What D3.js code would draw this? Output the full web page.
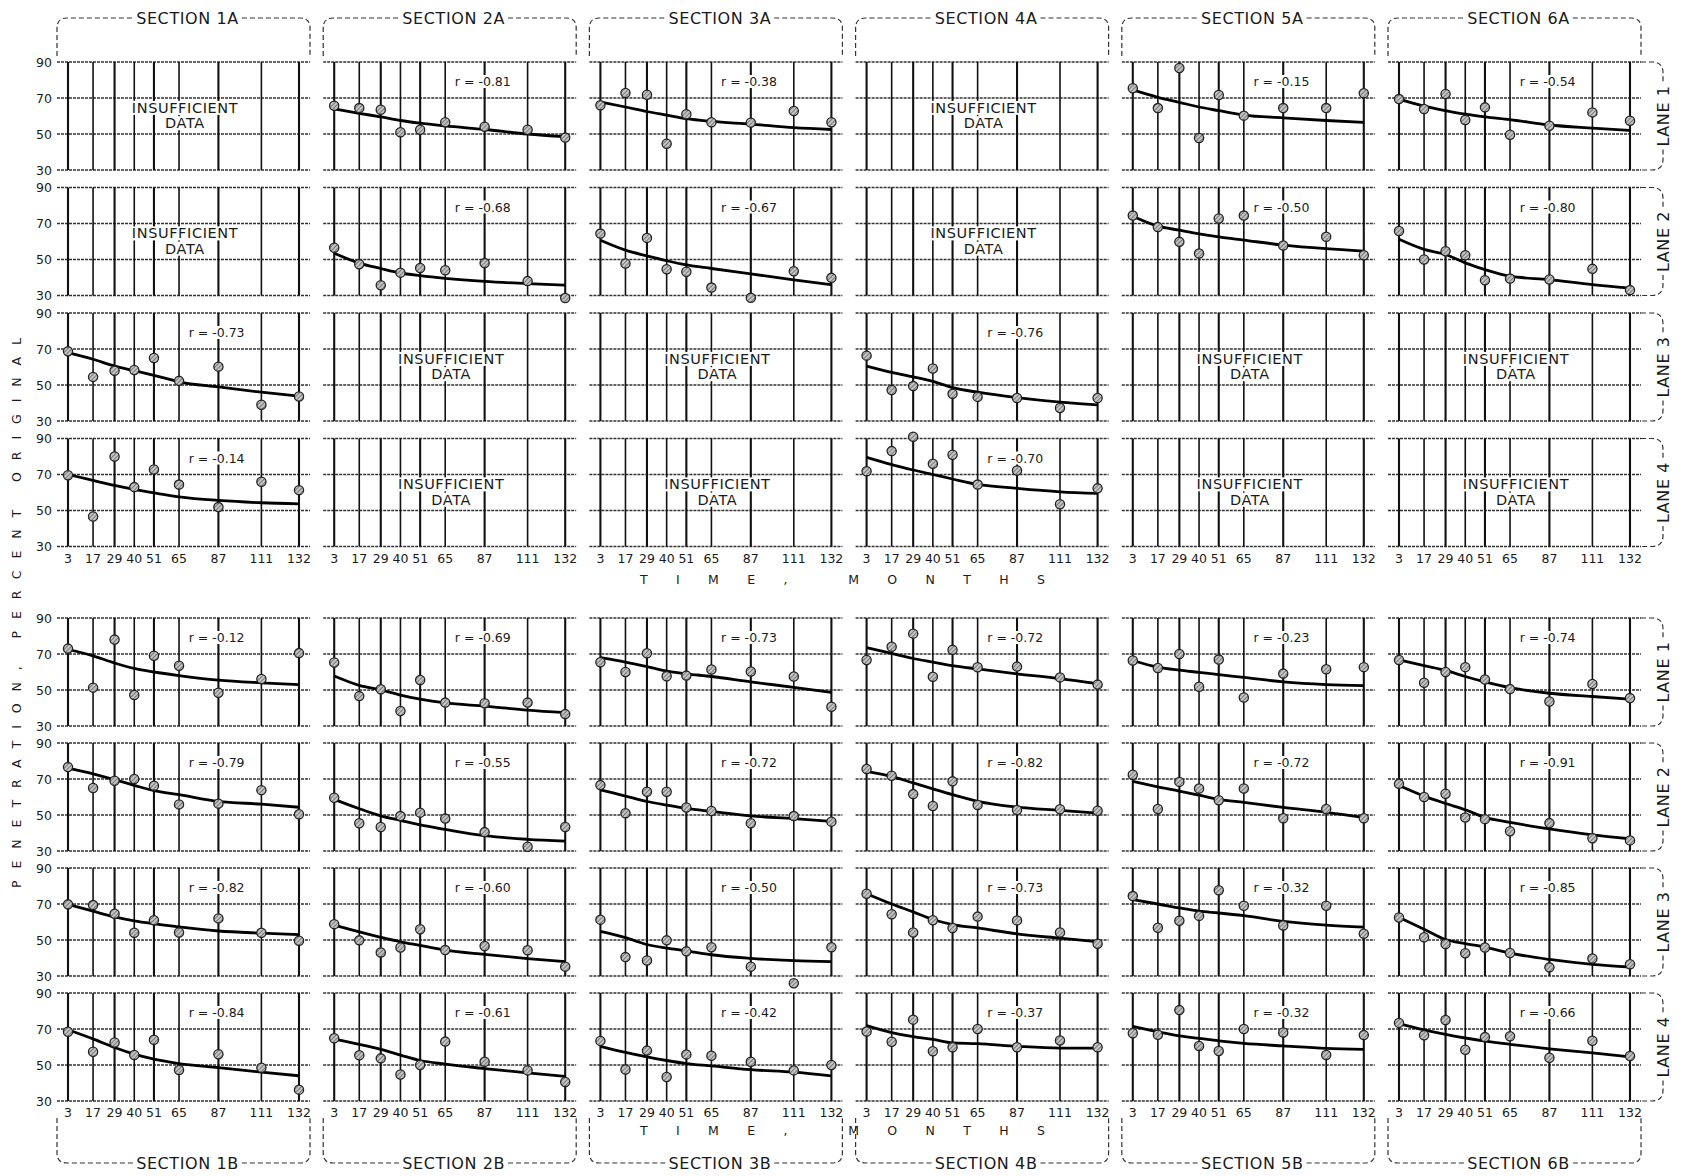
<!DOCTYPE html>
<html><head><meta charset="utf-8">
<script src="https://cdn.jsdelivr.net/npm/d3@7"></script>
<style>body{margin:0;background:#fff}</style>
</head><body>
<svg id="c" width="1694" height="1176"></svg>
<script>
// ---------- data ----------
const months = [3, 17, 29, 40, 51, 65, 87, 111, 132];
const monthLabels = ["3", "17", "29", "40", "51", "65", "87", "111", "132"];
const yTicks = [30, 50, 70, 90];
const sectionsTop = ["SECTION 1A", "SECTION 2A", "SECTION 3A", "SECTION 4A", "SECTION 5A", "SECTION 6A"];
const sectionsBottom = ["SECTION 1B", "SECTION 2B", "SECTION 3B", "SECTION 4B", "SECTION 5B", "SECTION 6B"];
const laneLabels = ["LANE 1", "LANE 2", "LANE 3", "LANE 4"];
const yTitle = "PENETRATION, PERCENT ORIGINAL";
const xTitle = "TIME,  MONTHS";
const noData = ["INSUFFICIENT", "DATA"];

// Group A (sections 1A-6A); one entry per section, null = insufficient data
const pointsA1 = [null,
  [65.7, 64.4, 63.5, 51, 52.4, 56.5, 54, 52.4, 48],
  [66, 72.8, 71.8, 44.6, 61, 56.5, 56.3, 62.8, 56.5],
  null,
  [75.4, 64.4, 86.7, 47.8, 71.7, 60.2, 64.4, 64.4, 72.6],
  [69.4, 63.9, 72.2, 57.8, 64.8, 49.6, 54.6, 62, 57.4]];
const curveA1 = [null,
  [64, 61.5, 59.5, 57.5, 56, 54.5, 52.5, 50, 48.5],
  [67.8, 65, 62.5, 60.5, 58.5, 57, 55.5, 53.5, 52.5],
  null,
  [74.5, 70.4, 67.6, 65, 63, 60.5, 59, 57.5, 56.5],
  [69.4, 65.5, 63, 61, 59.5, 58, 55, 53.3, 52]];
const rA1 = [null, "-0.81", "-0.38", null, "-0.15", "-0.54"];

const pointsA2 = [null,
  [56.5, 47.4, 35.7, 42.7, 45.3, 44, 48, 38, 28.6],
  [64.4, 47.8, 62, 44.6, 43.2, 34.4, 28.7, 43.5, 39.8],
  null,
  [74.4, 68, 59.8, 53.3, 72.8, 74.4, 57.8, 62.6, 52.4],
  [65.8, 50, 54.6, 52.4, 38.5, 39.4, 38.9, 44.8, 33]];
const curveA2 = [null,
  [53.5, 48, 45, 42.5, 41, 39.5, 37.8, 36.6, 35.7],
  [60.7, 55.2, 52, 49.3, 47, 45, 42, 38.7, 36],
  null,
  [74, 68.5, 66.3, 64.3, 62.6, 60.8, 58, 56, 54.7],
  [61.2, 55.6, 52.8, 48.1, 44.4, 40.7, 38.8, 36, 34.1]];
const rA2 = [null, "-0.68", "-0.67", null, "-0.50", "-0.80"];

const pointsA3 = [[68.7, 54.5, 57.9, 58.3, 65, 52.3, 60.2, 39, 43.6], null, null,
  [66.3, 47.2, 49.4, 59.2, 45.1, 43.4, 42.8, 37.2, 42.8], null, null];
const curveA3 = [[68, 64.3, 60.5, 58, 55.4, 51.8, 48.9, 46, 43.8], null, null,
  [60.5, 57, 54.5, 52, 48.5, 46, 43, 40.5, 39], null, null];
const rA3 = ["-0.73", null, null, "-0.76", null, null];

const pointsA4 = [[69.6, 46.7, 80, 63, 72.8, 64.4, 51.9, 66, 61.3], null, null,
  [71.8, 83, 91, 76, 81, 64.4, 72.2, 53.5, 62.3], null, null];
const curveA4 = [[70, 66.7, 63.9, 61.7, 59.8, 57.6, 55.6, 54.3, 53.7], null, null,
  [79.5, 75.5, 72.5, 70, 67.5, 64.5, 62.3, 60.4, 59.5], null, null];
const rA4 = ["-0.14", null, null, "-0.70", null, null];

// Group B (sections 1B-6B)
const pointsB1 = [
  [73, 51.3, 78, 47.2, 69, 63.5, 48.5, 56.1, 70.5],
  [65.3, 46.6, 50.4, 38.3, 55.6, 43, 42.6, 43, 36.6],
  [65.4, 60, 70.4, 57.6, 58, 61.4, 60.3, 57.5, 40.7],
  [66.7, 74, 81.3, 57.4, 72.3, 62.6, 63, 57, 53],
  [66.4, 62.2, 70, 51.8, 66.9, 45.8, 59.1, 61.5, 62.7],
  [66.7, 54, 60, 62.7, 55.8, 50.5, 43.6, 53.3, 45.5]];
const curveB1 = [
  [72.5, 69, 65, 62, 60, 58, 55.5, 54, 53],
  [57.8, 52.6, 50, 47.2, 44.9, 42.8, 41, 38.8, 37.4],
  [68, 65.5, 63, 60.5, 59, 57.5, 54.5, 51.5, 48.7],
  [73.6, 70.3, 67.5, 65.5, 63.5, 61.7, 59, 56.3, 53.5],
  [66.4, 62.7, 61, 59.8, 58.5, 57, 54.5, 53, 52.4],
  [66.7, 63.5, 60.9, 57.5, 54.5, 51.3, 48.2, 46.4, 44.9]];
const rB1 = ["-0.12", "-0.69", "-0.73", "-0.72", "-0.23", "-0.74"];

const pointsB2 = [
  [76.6, 65, 69, 70, 66.3, 55.9, 56.3, 63.8, 50.4],
  [59.6, 45.4, 43.3, 49.4, 51.3, 48, 40.5, 32.4, 43.3],
  [66.6, 51, 62.9, 62.9, 54.2, 52.2, 45.4, 49.4, 46.3],
  [75.6, 71.8, 61.6, 55, 68.7, 55.6, 52.8, 53.2, 52.4],
  [72.4, 53.3, 68.4, 64.7, 58.2, 64.7, 48.2, 53.3, 48.2],
  [67.3, 60, 61.8, 48.6, 47.7, 41, 45.5, 37.1, 35.9]];
const curveB2 = [
  [76, 72.8, 69.6, 66.5, 63.5, 61.3, 57.6, 56, 54.3],
  [58.7, 53.5, 49.5, 47, 44.5, 42, 38.5, 36.5, 35.5],
  [64, 60.5, 57.5, 55.5, 53.7, 52, 49.5, 48, 46.5],
  [74.3, 71.5, 67.8, 64.5, 61.3, 57.6, 54.4, 52.6, 51],
  [68.7, 65.6, 63.3, 61, 58.7, 57, 54.2, 51.5, 48.7],
  [66.4, 60.5, 56.4, 52.9, 48.7, 45.9, 42.3, 39, 36.8]];
const rB2 = ["-0.79", "-0.55", "-0.72", "-0.82", "-0.72", "-0.91"];

const pointsB3 = [
  [69.8, 69.4, 64.6, 54, 61, 54.2, 62, 54, 49.6],
  [58.8, 49.8, 43.1, 45.8, 56, 44.4, 46.7, 44.3, 35.2],
  [61.3, 40.5, 38.6, 49.8, 43.7, 46, 35.2, 26, 46],
  [75.7, 64.3, 54.2, 61, 56.7, 63, 60.9, 54.2, 47.9],
  [74.4, 56.8, 60.7, 63.4, 77.6, 69, 58.1, 69, 53.5],
  [62.5, 51.5, 47.8, 42.6, 45.8, 42.8, 34.8, 39.7, 36.5]];
const curveB3 = [
  [69.8, 66, 62.8, 60.6, 59, 57.3, 55, 53.8, 53],
  [58.3, 54.5, 51.5, 49, 47, 44.4, 42, 39.7, 38],
  [54.8, 51.3, 47.5, 45.5, 44, 41.8, 39.8, 38.5, 38],
  [75.7, 70, 65.6, 61.4, 58.6, 56.7, 53.4, 51, 49],
  [72.5, 70, 67.8, 66, 65, 63.5, 60.3, 58.3, 57.2],
  [62.5, 56, 50.3, 48, 46, 42.7, 39.2, 36.5, 35]];
const rB3 = ["-0.82", "-0.60", "-0.50", "-0.73", "-0.32", "-0.85"];

const pointsB4 = [
  [68.5, 57.4, 62.5, 55.6, 64, 47.2, 56, 48.5, 36.3],
  [64.9, 55.4, 53.7, 44.7, 50, 63, 51.8, 47, 40.6],
  [63.4, 47.5, 58, 43.3, 55.9, 55.1, 51.8, 47, 50],
  [68.6, 62.9, 75.2, 57.6, 59.9, 70, 59.9, 63.6, 59.9],
  [67.6, 66.8, 80.5, 60.6, 57.8, 70, 68.1, 55.6, 66.6],
  [73.4, 66.5, 75, 58.5, 65.5, 66, 54, 63.5, 55]];
const curveB4 = [
  [69.6, 64.5, 59.7, 56, 53.2, 50.8, 48.5, 46, 44],
  [64.4, 61.5, 58.7, 55.5, 52.5, 50.5, 48, 45.6, 43.7],
  [60.4, 57, 54.5, 52.5, 50.8, 49.5, 47.4, 46, 44],
  [71.9, 68, 65.7, 64.2, 62.3, 61.9, 60.4, 59.4, 59.4],
  [71.5, 68.5, 66.2, 64.8, 63.4, 62, 60.6, 59.2, 58.7],
  [73, 69.5, 67, 65, 63.3, 61.5, 59, 56.7, 54.5]];
const rB4 = ["-0.84", "-0.61", "-0.42", "-0.37", "-0.32", "-0.66"];

// ---------- drawing ----------
const FONT = "'DejaVu Sans', Verdana, sans-serif";
const svg = d3.select("#c");
const W = 253, H = 108;
const colLeft = i => 57 + i * 266.2;
const INK = "#1a1a1a";

// hatched marker fill
const defs = svg.append("defs");
const pat = defs.append("pattern").attr("id", "hatch").attr("patternUnits", "userSpaceOnUse")
  .attr("width", 3).attr("height", 3).attr("patternTransform", "rotate(45)");
pat.append("rect").attr("width", 3).attr("height", 3).attr("fill", "#c4c4c4");
pat.append("line").attr("x1", 0).attr("y1", 0).attr("x2", 0).attr("y2", 3)
  .attr("stroke", "#555").attr("stroke-width", 1.4);

const groups = [
  { top: 62, pitch: 125.5, pts: [pointsA1, pointsA2, pointsA3, pointsA4],
    cur: [curveA1, curveA2, curveA3, curveA4], r: [rA1, rA2, rA3, rA4],
    sections: sectionsTop, sectionPos: "top", timeY: 584 },
  { top: 618, pitch: 125, pts: [pointsB1, pointsB2, pointsB3, pointsB4],
    cur: [curveB1, curveB2, curveB3, curveB4], r: [rB1, rB2, rB3, rB4],
    sections: sectionsBottom, sectionPos: "bottom", timeY: 1135 }
];

function bgText(g, x, y, str, size, spacing) {
  const t = g.append("text").attr("x", x).attr("y", y)
    .attr("font-family", FONT).attr("font-size", size)
    .attr("text-anchor", "middle").attr("fill", INK)
    .attr("letter-spacing", spacing || 0).text(str);
  const bb = t.node().getBBox();
  g.insert("rect", () => t.node())
    .attr("x", bb.x - 3).attr("y", bb.y + 1).attr("width", bb.width + 6).attr("height", bb.height - 2)
    .attr("fill", "#fff");
  return t;
}

const line = d3.line().curve(d3.curveMonotoneX);

groups.forEach((grp, gi) => {
  for (let li = 0; li < 4; li++) {
    const top = grp.top + li * grp.pitch;
    const y = d3.scaleLinear().domain([30, 90]).range([top + H, top]);
    for (let ci = 0; ci < 6; ci++) {
      const left = colLeft(ci);
      const x = d3.scaleLinear().domain([3, 132]).range([left + 11, left + W - 11]);
      const g = svg.append("g");
      // horizontal grid
      g.selectAll("line.h").data(yTicks).join("line")
        .attr("x1", left).attr("x2", left + W)
        .attr("y1", d => y(d)).attr("y2", d => y(d))
        .attr("stroke", "#333").attr("stroke-width", 1.6).attr("stroke-dasharray", "3,1");
      // vertical grid
      g.selectAll("line.v").data(months).join("line")
        .attr("x1", d => x(d)).attr("x2", d => x(d))
        .attr("y1", y(90)).attr("y2", y(30))
        .attr("stroke", "#111").attr("stroke-width", (d, i) => (i % 2 ? 1.6 : 2.1));

      const pts = grp.pts[li][ci];
      if (!pts) {
        bgText(g, left + 128, y(64.5) + 5, noData[0], 14.5, 0.6);
        bgText(g, left + 128, y(56) + 5, noData[1], 14.5, 0.6);
      } else {
        bgText(g, x(86), top + 24, "r = " + grp.r[li][ci], 12.5, 0);
        const cur = grp.cur[li][ci];
        g.append("path")
          .attr("d", line(months.map((m, i) => [x(m), y(cur[i])])))
          .attr("fill", "none").attr("stroke", "#000").attr("stroke-width", 2.8);
        g.selectAll("circle").data(pts).join("circle")
          .attr("cx", (d, i) => x(months[i])).attr("cy", d => y(d)).attr("r", 4.6)
          .attr("fill", "url(#hatch)").attr("stroke", "#222").attr("stroke-width", 1.3);
      }

      // y tick labels on first column
      if (ci === 0) {
        g.selectAll("text.yl").data(yTicks).join("text")
          .attr("x", 52).attr("y", d => y(d) + 4.5)
          .attr("text-anchor", "end").attr("font-family", FONT).attr("font-size", 12.5)
          .attr("fill", INK).text(d => d);
      }
      // x tick labels under last lane
      if (li === 3) {
        g.selectAll("text.xl").data(months).join("text")
          .attr("x", d => x(d)).attr("y", y(30) + 16)
          .attr("text-anchor", "middle").attr("font-family", FONT).attr("font-size", 12.5)
          .attr("fill", INK).text((d, i) => monthLabels[i]);
      }
    }
  }

  // section brackets
  grp.sections.forEach((s, ci) => {
    const left = colLeft(ci), right = left + W, cx = left + W / 2 + 4;
    const isTop = grp.sectionPos === "top";
    const hy = isTop ? 18 : 1163;
    const endY = isTop ? 56 : 1118;
    const rr = 10;
    const t = svg.append("text").attr("x", cx).attr("y", hy + 6)
      .attr("text-anchor", "middle").attr("font-family", FONT).attr("font-size", 16)
      .attr("letter-spacing", 0.6).attr("fill", INK).text(s);
    const bb = t.node().getBBox();
    const sgn = isTop ? 1 : -1;
    const p = d3.path();
    p.moveTo(left, endY);
    p.lineTo(left, hy + sgn * rr);
    p.quadraticCurveTo(left, hy, left + rr, hy);
    p.lineTo(bb.x - 3, hy);
    p.moveTo(bb.x + bb.width + 3, hy);
    p.lineTo(right - rr, hy);
    p.quadraticCurveTo(right, hy, right, hy + sgn * rr);
    p.lineTo(right, endY);
    svg.append("path").attr("d", p.toString()).attr("fill", "none")
      .attr("stroke", "#333").attr("stroke-width", 1.2).attr("stroke-dasharray", "5,3");
  });

  // lane brackets on the right
  laneLabels.forEach((lab, li) => {
    const top = grp.top + li * grp.pitch, bot = top + H, mid = (top + bot) / 2;
    const x0 = colLeft(5) + W, xv = 1663, rr = 11;
    const t = svg.append("text")
      .attr("transform", `translate(${xv + 6},${mid}) rotate(-90)`)
      .attr("text-anchor", "middle").attr("font-family", FONT).attr("font-size", 16)
      .attr("letter-spacing", 0.6).attr("fill", INK).text(lab);
    const half = t.node().getBBox().width / 2;
    const p = d3.path();
    p.moveTo(x0, top);
    p.lineTo(xv - rr, top);
    p.quadraticCurveTo(xv, top, xv, top + rr);
    p.lineTo(xv, mid - half - 3);
    p.moveTo(xv, mid + half + 3);
    p.lineTo(xv, bot - rr);
    p.quadraticCurveTo(xv, bot, xv - rr, bot);
    p.lineTo(x0, bot);
    svg.append("path").attr("d", p.toString()).attr("fill", "none")
      .attr("stroke", "#333").attr("stroke-width", 1.2).attr("stroke-dasharray", "5,3");
  });

  // time axis title
  svg.append("text").attr("x", 640).attr("y", grp.timeY)
    .attr("font-family", FONT).attr("font-size", 12.5).attr("fill", INK)
    .attr("textLength", 405).attr("lengthAdjust", "spacing")
    .text(xTitle);
});

// y axis title
svg.append("text")
  .attr("transform", "translate(21,613) rotate(-90)")
  .attr("text-anchor", "middle").attr("font-family", FONT).attr("font-size", 12.5)
  .attr("fill", INK).attr("textLength", 550).attr("lengthAdjust", "spacing")
  .text(yTitle);
</script>
</body></html>
